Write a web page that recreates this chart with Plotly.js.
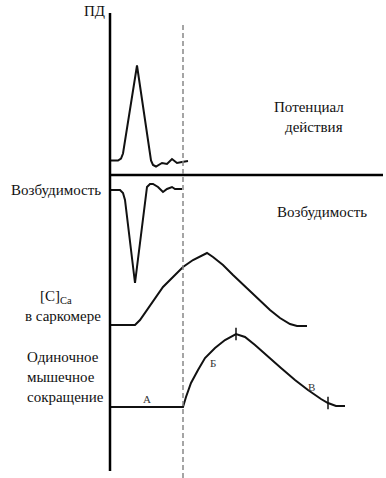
<!DOCTYPE html>
<html>
<head>
<meta charset="utf-8">
<script src="https://cdn.plot.ly/plotly-3.0.1.min.js"></script>
<style>html,body{margin:0;padding:0;background:#fff;}#chart{width:386px;height:478px;}</style>
</head>
<body>
<div id="chart"></div>
<script>
// time (arbitrary units from stimulus axis) and amplitudes (positive = up)
var tPD  = [0, 8, 11, 13, 27, 41, 43, 46, 52, 57, 62, 67, 72, 78];
var aPD  = [0, 0, 2, 7, 95, 0, -4.5, -6, -2.5, -3.5, 1.5, -2.5, -1.5, -0.5];

var tEX  = [0, 10, 13, 15, 25, 37, 40, 43, 48, 53, 57, 62, 65, 72];
var aEX  = [0, 0, -3, -10, -93, 3, 6, 6, 3, -2, 1, 3, 1, 1];

var tCA  = [0, 25, 30, 37, 45, 53, 63, 73, 83, 97, 103, 113, 123, 137, 150, 160, 170, 180, 187, 197];
var aCA  = [0, 0, 5, 15, 27, 38, 48, 58, 65, 72, 68, 60, 50, 37, 25, 15, 7, 1, -1, -1];

var tTW  = [0, 73, 76, 81, 88, 95, 105, 115, 126, 135, 145, 158, 171, 185, 198, 211, 218, 226, 235];
var aTW  = [0, 0, 10, 24, 37, 49, 59, 67, 73, 70, 62, 50, 39, 27, 17, 8, 4, 1, 1];
var tTWmarks = [126, 218];
var aTWmarks = [73, 4];

var stimulusT = 73;

var panelTexts = {
  pd: "ПД",
  pot1: "Потенциал",
  pot2: "действия",
  exc: "Возбудимость",
  ca1: "[C]<sub>Ca</sub>",
  ca2: "в саркомере",
  tw1: "Одиночное",
  tw2: "мышечное",
  tw3: "сокращение",
  phA: "А", phB: "Б", phC: "В"
};

// layout: baselines in plot (pixel-like) y units
var base = {pd: 160.5, ex: 190, ca: 325, tw: 407};
function lev(arr, b){ return arr.map(function(v){ return b - v; }); }
var X0 = 110; // x position of the vertical axis
function px(x){ return x - X0; }

var lineStyle = {color:'#111', width:2};
var traces = [
  {x:tPD, y:lev(aPD, base.pd), mode:'lines', line:lineStyle, hoverinfo:'skip'},
  {x:tEX, y:lev(aEX, base.ex), mode:'lines', line:lineStyle, hoverinfo:'skip'},
  {x:tCA, y:lev(aCA, base.ca), mode:'lines', line:lineStyle, hoverinfo:'skip'},
  {x:tTW, y:lev(aTW, base.tw), mode:'lines', line:lineStyle, hoverinfo:'skip'},
  {x:tTWmarks, y:lev(aTWmarks, base.tw), mode:'markers',
   marker:{symbol:'line-ns', size:9, line:{color:'#111', width:1.5}}, hoverinfo:'skip'}
];

var FAM = 'Liberation Serif, DejaVu Serif, Tinos, Times, serif';
var serif = {family:FAM, size:15, color:'#111'};
var small = {family:FAM, size:11, color:'#333'};
function ann(text, x, y, xa, font){
  return {text:text, x:px(x), y:y, xref:'x', yref:'y', showarrow:false,
          xanchor:xa||'center', yanchor:'middle', font:font||serif};
}

var layout = {
  width:386, height:478,
  margin:{l:0, r:0, t:0, b:0},
  paper_bgcolor:'#fff', plot_bgcolor:'#fff',
  showlegend:false,
  font:{family:FAM},
  xaxis:{range:[px(0), px(386)], visible:false, fixedrange:true},
  yaxis:{range:[478, 0], visible:false, fixedrange:true},
  shapes:[
    {type:'line', xref:'x', yref:'y', x0:0, x1:0, y0:13, y1:471, line:{color:'#000', width:2.5}},
    {type:'line', xref:'x', yref:'y', x0:0, x1:px(383), y0:175, y1:175, line:{color:'#000', width:2.5}},
    {type:'line', xref:'x', yref:'y', x0:stimulusT, x1:stimulusT, y0:25, y1:478, line:{color:'#888', width:1.5, dash:'5px,3px'}}
  ],
  annotations:[
    ann(panelTexts.pd, 94, 11),
    ann(panelTexts.pot1, 309, 107),
    ann(panelTexts.pot2, 314, 127),
    ann(panelTexts.exc, 322, 212),
    ann(panelTexts.exc, 103, 190, 'right'),
    ann(panelTexts.ca1, 38, 297, 'left'),
    ann(panelTexts.ca2, 103, 316, 'right'),
    ann(panelTexts.tw1, 25, 357, 'left'),
    ann(panelTexts.tw2, 25, 377, 'left'),
    ann(panelTexts.tw3, 25, 397, 'left'),
    ann(panelTexts.phA, 147, 399, 'center', small),
    ann(panelTexts.phB, 213, 363, 'center', small),
    ann(panelTexts.phC, 311, 387, 'center', small)
  ]
};

Plotly.newPlot('chart', traces, layout, {staticPlot:true, displayModeBar:false});
</script>
</body>
</html>
